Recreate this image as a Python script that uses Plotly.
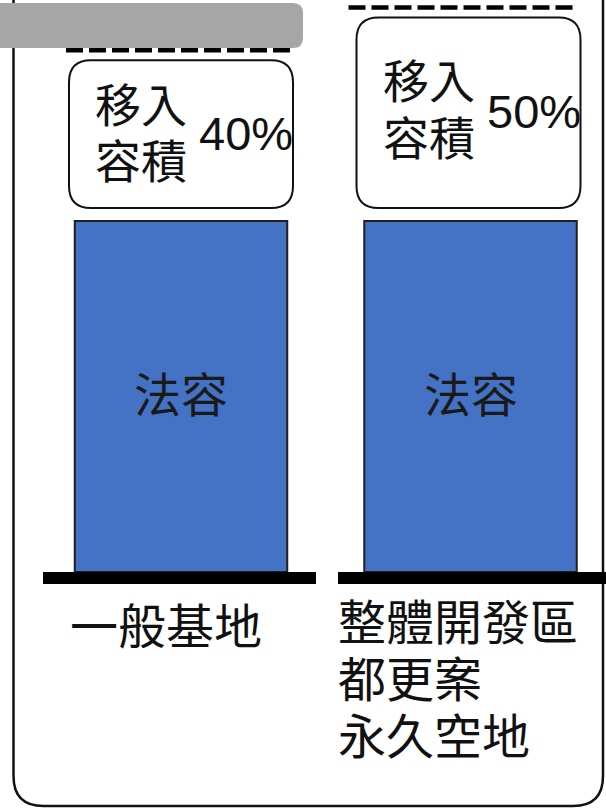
import plotly.graph_objects as go

# ---------------- data ----------------
category_lines = [["一般基地"], ["整體開發區", "都更案", "永久空地"]]
legal_capacity = [100, 100]          # 法容 (base capacity)
transfer_pct = [40, 50]              # 移入容積 (%)
bar_label = "法容"
box_label = ["移入", "容積"]
x_pos = [0, 1]

# ---------------- geometry / style ----------------
W, H = 606, 808
PXX = 289.5          # pixels per x unit
PXY = 3.51           # pixels per y unit
X0 = -181 / PXX      # x value at left edge
X1 = (W - 181) / PXX
Y_TOP = 572 / PXY
Y_BOT = -(H - 572) / PXY
BAR_W = 212.5 / PXX
K_PCT = 1.216        # visual units per transfer percent
BOX_GAP = 3.7
BOX_CAP_GAP = 2.85
DASH_SHIFT = [0, -7]     # pixel shift of dashed cap lines
BOX_SHIFT = [0, -2]      # pixel shift of transfer boxes
TEXT_DY = [[32, -24], [35, -22]]
BLUE = "#4472C4"
FONT_CJK = "Noto Sans CJK TC, Noto Sans CJK JP, sans-serif"
FONT_LAT = "Liberation Sans, Arial, sans-serif"


def xpx(x):      # data x -> pixel
    return 181 + x * PXX


def ypx(y):      # data y -> pixel
    return 572 - y * PXY


def rrect(x0, y0, x1, y1, rx, ry):
    # rounded rectangle path, y0 < y1
    return (f"M {x0+rx},{y0} L {x1-rx},{y0} Q {x1},{y0} {x1},{y0+ry} "
            f"L {x1},{y1-ry} Q {x1},{y1} {x1-rx},{y1} L {x0+rx},{y1} "
            f"Q {x0},{y1} {x0},{y1-ry} L {x0},{y0+ry} Q {x0},{y0} {x0+rx},{y0} Z")


def pp(xp, yp):  # pixel -> paper
    return xp / W, 1 - yp / H


fig = go.Figure()
fig.add_trace(go.Bar(
    x=x_pos, y=legal_capacity, width=BAR_W,
    marker=dict(color=BLUE, line=dict(color="#1f1f1f", width=2)),
    hoverinfo="skip", showlegend=False,
))

shapes = []
annotations = []

# outer rounded frame (paper coords)
ox0, oy0 = pp(13.5, 806)
ox1, oy1 = pp(603, -40)
shapes.append(dict(type="path", xref="paper", yref="paper", layer="below",
                   path=rrect(ox0, oy0, ox1, oy1, 30 / W, 30 / H),
                   line=dict(color="#111", width=2.5), fillcolor="rgba(0,0,0,0)"))

# gray header bar
gx0, gy0 = pp(-20, 48)
gx1, gy1 = pp(303, 3)
shapes.append(dict(type="path", xref="paper", yref="paper", layer="above",
                   path=rrect(gx0, gy0, gx1, gy1, 10 / W, 10 / H),
                   line=dict(width=0), fillcolor="#A6A6A6"))

for i, (xc, legal, pct) in enumerate(zip(x_pos, legal_capacity, transfer_pct)):
    cap = legal + pct * K_PCT
    # dashed cap line
    hw = 115 / PXX
    dc = xc + DASH_SHIFT[i] / PXX
    shapes.append(dict(type="line", xref="x", yref="y", x0=dc - hw, x1=dc + hw,
                       y0=cap, y1=cap, line=dict(color="#000", width=4.5, dash="17px,6px")))
    # transfer box
    by0 = legal + BOX_GAP
    by1 = cap - BOX_CAP_GAP
    bw = 112 / PXX
    bxc = xc + BOX_SHIFT[i] / PXX
    shapes.append(dict(type="path", xref="x", yref="y",
                       path=rrect(bxc - bw, by0, bxc + bw, by1, 22 / PXX, 22 / PXY),
                       line=dict(color="#111", width=2), fillcolor="white"))
    bc = (by0 + by1) / 2
    left_px = xpx(bxc - bw) + 24
    for j, (txt, dy) in enumerate(zip(box_label, TEXT_DY[i])):
        annotations.append(dict(x=(left_px) / W, y=1 - (ypx(bc) - dy) / H,
                                xref="paper", yref="paper", text=txt, showarrow=False,
                                xanchor="left", yanchor="middle",
                                font=dict(family=FONT_CJK, size=46, color="#111")))
    annotations.append(dict(x=bxc + bw + 2 / PXX, y=bc + 1 / PXY, xref="x", yref="y",
                            text=f"{pct}%", showarrow=False, xanchor="right",
                            yanchor="middle",
                            font=dict(family=FONT_LAT, size=47, color="#111")))
    # bar label
    annotations.append(dict(x=xc, y=legal / 2 + 5 / PXY, xref="x", yref="y",
                            text=bar_label, showarrow=False, yanchor="middle",
                            font=dict(family=FONT_CJK, size=47, color="#1a1a1a")))

# ground lines
ground = [(43, 316), (338, 610)]
for g0, g1 in ground:
    a0, b0 = pp(g0, 584)
    a1, b1 = pp(g1, 572)
    shapes.append(dict(type="rect", xref="paper", yref="paper", x0=a0, x1=a1,
                       y0=b0, y1=b1, line=dict(width=0), fillcolor="black"))

# category labels
label_left = [68, 336]
label_top = [623, 619]
for lines, lx, ly in zip(category_lines, label_left, label_top):
    for k, t in enumerate(lines):
        annotations.append(dict(x=lx / W, y=1 - (ly + k * 57) / H, xref="paper",
                                yref="paper", text=t, showarrow=False,
                                xanchor="left", yanchor="middle",
                                font=dict(family=FONT_CJK, size=48, color="#111")))

fig.update_layout(
    width=W, height=H, margin=dict(l=0, r=0, t=0, b=0),
    paper_bgcolor="white", plot_bgcolor="white",
    xaxis=dict(range=[X0, X1], visible=False, fixedrange=True),
    yaxis=dict(range=[Y_BOT, Y_TOP], visible=False, fixedrange=True),
    shapes=shapes, annotations=annotations, showlegend=False,
)

fig.write_html("out.html", config={"displayModeBar": False})
